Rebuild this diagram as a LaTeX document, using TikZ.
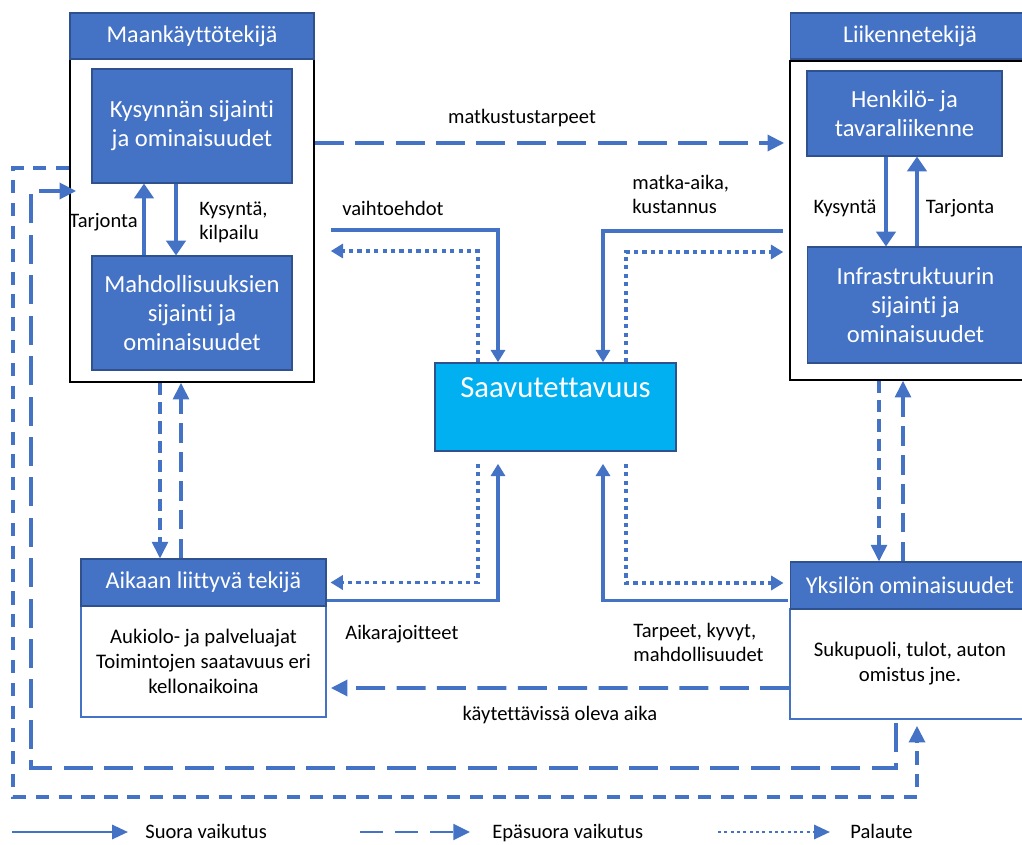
\documentclass[tikz,border=0pt]{standalone}
\usepackage{fontspec}
\setmainfont{Carlito}[Ligatures=NoCommon]
\usetikzlibrary{arrows.meta,calc}

\definecolor{kaaviosin}{HTML}{4472C4}
\definecolor{reunasin}{HTML}{2F528F}
\definecolor{saavsin}{HTML}{00B0F0}

\begin{document}
\begin{tikzpicture}[x=0.02cm, y=-0.02cm,
    otsikko/.style={draw=reunasin, fill=kaaviosin, text=white, line width=0.6pt, inner sep=0pt, font=\fontsize{13.7}{16}\selectfont},
    sisalaatikko/.style={otsikko, align=center, font=\fontsize{14}{16.5}\selectfont},
    kehys/.style={draw=black, line width=0.9pt, inner sep=0pt},
    runko/.style={draw=kaaviosin, fill=white, line width=0.9pt, inner sep=0pt, align=center, font=\fontsize{11.8}{14.2}\selectfont},
    teksti/.style={inner sep=0pt, align=left, font=\fontsize{11.7}{13.7}\selectfont},
    pieni/.style={-{Triangle[width=8pt,length=7pt]}},
    iso/.style={-{Triangle[width=9pt,length=9.5pt]}},
    suora/.style={draw=kaaviosin, line width=2.2pt, pieni},
    palaute/.style={draw=kaaviosin, line width=2.2pt, dash pattern=on 2.4pt off 2.4pt, pieni},
    pitka/.style={draw=kaaviosin, line width=2.2pt, dash pattern=on 16.5pt off 6.5pt, iso},
    lyhyt/.style={draw=kaaviosin, line width=2.2pt, dash pattern=on 7.5pt off 5.5pt, iso},
    tihea/.style={draw=kaaviosin, line width=2pt, dash pattern=on 7pt off 4pt, iso},
    keski/.style={draw=kaaviosin, line width=2pt, dash pattern=on 11pt off 5.5pt, iso},
    paksu/.style={draw=kaaviosin, line width=2.8pt, -{Triangle[width=11pt,length=8.5pt]}}]

    \useasboundingbox (0,0) rectangle (1022,845);

    % Maankayttotekija, left top
    \node[kehys, minimum width=4.88cm, minimum height=6.46cm] (mkBox) at (192,220.5) {};
    \node[otsikko, minimum width=4.88cm, minimum height=0.92cm] (mkHead) at (192,36) {Maankäyttötekijä};
    \node[sisalaatikko, minimum width=4cm, minimum height=2.28cm] (kysynta) at (192,126) {Kysynnän sijainti\\ja ominaisuudet};
    \node[sisalaatikko, minimum width=4cm, minimum height=2.28cm] (mahd) at (192,313) {Mahdollisuuksien\\sijainti ja\\ominaisuudet};

    % Liikennetekija, right top (runs over the right edge)
    \node[kehys, minimum width=4.8cm, minimum height=6.38cm] (lkBox) at (910,220.5) {};
    \node[otsikko, minimum width=4.8cm, minimum height=0.92cm] (lkHead) at (910,36) {Liikennetekijä};
    \node[sisalaatikko, minimum width=3.9cm, minimum height=1.7cm] (henk) at (904.5,113.5) {Henkilö- ja\\tavaraliikenne};
    \node[sisalaatikko, minimum width=4.34cm, minimum height=2.32cm] (infra) at (915.5,305) {Infrastruktuurin\\sijainti ja\\ominaisuudet};

    % Saavutettavuus in the middle
    \node[draw=reunasin, fill=saavsin, line width=0.9pt, minimum width=4.82cm, minimum height=1.76cm] (saav) at (555.5,407) {};
    \node[text=white, inner sep=0pt, font=\fontsize{17.5}{20}\selectfont] (saavTxt) at ($(saav.north)+(0,25.5)$) {Saavutettavuus};

    % Aikaan liittyva tekija, left bottom
    \node[runko, minimum width=4.9cm, minimum height=2.22cm] (aikBox) at (203.5,661.5) {Aukiolo- ja palveluajat\\Toimintojen saatavuus eri\\kellonaikoina};
    \node[otsikko, minimum width=4.9cm, minimum height=0.94cm] (aikHead) at (203.5,582.5) {Aikaan liittyvä tekijä};

    % Yksilon ominaisuudet, right bottom
    \node[runko, minimum width=4.8cm, minimum height=2.2cm] (ykBox) at (910,664) {Sukupuoli, tulot, auton\\omistus jne.};
    \node[otsikko, minimum width=4.8cm, minimum height=0.94cm] (ykHead) at (910,585.5) {Yksilön ominaisuudet};

    % Arrows inside the two upper boxes
    \draw[paksu] ($(mahd.north)+(-48,0)$) -- ($(kysynta.south)+(-48,0)$); % Tarjonta
    \draw[paksu] ($(kysynta.south)+(-16,0)$) -- ($(mahd.north)+(-16,0)$); % Kysynta
    \coordinate (lkAlas) at ($(henk.south)+(-18.5,0)$);
    \coordinate (lkYlos) at ($(henk.south)+(12.5,0)$);
    \draw[paksu] (lkAlas) -- (lkAlas |- infra.north);
    \draw[paksu] (lkYlos |- infra.north) -- (lkYlos);

    % matkustustarpeet
    \coordinate (matkA) at ($(mkBox.east)+(0,-77.5)$);
    \draw[pitka] (matkA) -- ($(lkBox.west |- matkA)+(-5,0)$);

    % Top connectors into Saavutettavuus
    \coordinate (vaihA) at ($(mkBox.east)+(16,9.5)$);
    \coordinate (vaihB) at ($(mkBox.east)+(16,30.5)$);
    \draw[suora] (vaihA) -| ($(saav.north)+(-57.5,0)$);
    \draw[palaute] ($(saav.north)+(-77.5,0)$) |- (vaihB);
    \coordinate (kustA) at ($(lkBox.west)+(-6,10.5)$);
    \coordinate (kustB) at ($(lkBox.west)+(-6,31.5)$);
    \draw[suora] (kustA) -| ($(saav.north)+(47.5,0)$);
    \draw[palaute] ($(saav.north)+(70.5,0)$) |- (kustB);

    % Bottom connectors
    \draw[palaute] ($(saav.south)+(-77.5,12)$) |- ($(aikHead.east)+(4,0)$);
    \draw[suora] ($(aikHead.south east)+(0,-6)$) -| ($(saav.south)+(-57.5,12)$);
    \draw[suora] ($(ykHead.south west)+(-2,-9)$) -| ($(saav.south)+(47.5,12)$);
    \draw[palaute] ($(saav.south)+(70.5,12)$) |- ($(ykHead.west)+(-6,-2.5)$);
    \draw[pitka] ($(ykBox.west)+(0,24)$) -- ($(aikBox.east)+(4,26.5)$); % kaytettavissa oleva aika

    % Vertical dashed pairs
    \coordinate (mkAlas) at ($(mkBox.south)+(-32,0)$);
    \coordinate (mkYlos) at ($(mkBox.south)+(-11,0)$);
    \draw[tihea] (mkAlas) -- (mkAlas |- aikHead.north);
    \draw[keski] (mkYlos |- aikHead.north) -- (mkYlos);
    \coordinate (ykAlas) at ($(lkBox.south)+(-31,0)$);
    \coordinate (ykYlos) at ($(lkBox.south)+(-7,0)$);
    \draw[tihea] (ykAlas) -- (ykAlas |- ykHead.north);
    \draw[keski] (ykYlos |- ykHead.north) -- (ykYlos);

    % Outer loops
    \coordinate (pitkaAlku) at ($(ykBox.south)+(-14,3)$);
    \coordinate (pitkaKulma) at (31,768);
    \draw[pitka] (pitkaAlku) |- (pitkaKulma) |- ($(mkBox.west)+(7,-29.5)$);
    \coordinate (lyhytKulma) at (13,797);
    \draw[lyhyt] ($(mkBox.west)+(0,-52.5)$) -| (lyhytKulma) -| ($(ykBox.south)+(7,6)$);

    % Labels
    \node[teksti, anchor=east] (tarjMk) at (138,222) {Tarjonta};
    \node[teksti, anchor=west] (kysMk) at (199,222) {Kysyntä,\\kilpailu};
    \node[teksti] (kysLk) at (845,208) {Kysyntä};
    \node[teksti] (tarjLk) at (960,208) {Tarjonta};
    \node[teksti] (matkTxt) at (522,118) {matkustustarpeet};
    \node[teksti] (vaihTxt) at (393,208) {vaihtoehdot};
    \node[teksti, anchor=west] (kustTxt) at (632,194) {matka-aika,\\kustannus};
    \node[teksti, anchor=west] (aikaTxt) at (345,634) {Aikarajoitteet};
    \node[teksti, anchor=west] (tarpTxt) at (633,642) {Tarpeet, kyvyt,\\mahdollisuudet};
    \node[teksti] (kaytTxt) at (560,715) {käytettävissä oleva aika};

    % Legend
    \node[teksti, anchor=base west] (selSuora) at (145,838) {Suora vaikutus};
    \node[teksti, anchor=base west] (selEpa) at (492,838) {Epäsuora vaikutus};
    \node[teksti, anchor=base west] (selPal) at (850,838) {Palaute};
    \coordinate (selA) at (12,832);
    \coordinate (selB) at (360,832);
    \coordinate (selC) at (718,832);
    \draw[suora, line width=1.5pt, -{Triangle[width=8pt,length=9pt]}] (selA) -- (selA -| {$(selSuora.west)+(-17,0)$});
    \draw[pitka, line width=1.5pt, dash pattern=on 13pt off 7pt] (selB) -- (selB -| {$(selEpa.west)+(-22,0)$});
    \draw[palaute, line width=1.5pt, dash pattern=on 1.8pt off 1.8pt, -{Triangle[width=8pt,length=9pt]}] (selC) -- (selC -| {$(selPal.west)+(-20,0)$});
\end{tikzpicture}
\end{document}
